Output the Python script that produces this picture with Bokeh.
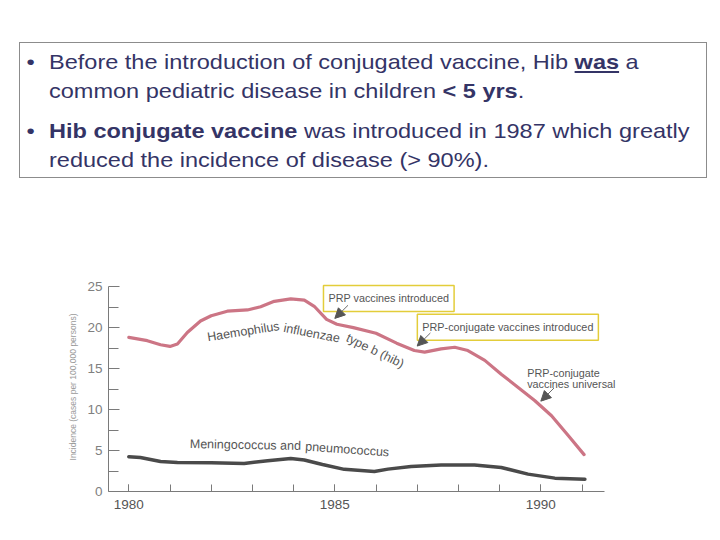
import numpy as np
from bokeh.plotting import figure
from bokeh.models import (Range1d, FixedTicker, Label, Arrow, NormalHead, Div)
from bokeh.layouts import column
from bokeh.embed import file_html
from bokeh.resources import INLINE

# ---------------- data ----------------
hib_years = [1980.0, 1980.45, 1980.77, 1981.0, 1981.18, 1981.42, 1981.74, 1982.0,
             1982.39, 1982.88, 1983.2, 1983.53, 1983.93, 1984.26, 1984.5, 1984.8,
             1985.05, 1985.45, 1986.0, 1986.5, 1986.93, 1987.18, 1987.58, 1987.91,
             1988.23, 1988.64, 1989.04, 1989.45, 1989.85, 1990.26, 1990.67, 1991.05]
hib_vals = [18.8, 18.4, 17.9, 17.7, 18.0, 19.4, 20.8, 21.45,
            22.0, 22.15, 22.55, 23.2, 23.5, 23.35, 22.6, 21.0,
            20.4, 20.0, 19.3, 18.1, 17.2, 17.0, 17.4, 17.6,
            17.2, 16.0, 14.3, 12.7, 11.1, 9.25, 6.8, 4.5]

mp_years = [1980.0, 1980.28, 1980.77, 1981.18, 1982.0, 1982.8, 1983.37, 1983.93,
            1984.26, 1984.7, 1985.23, 1985.96, 1986.29, 1986.85, 1987.58, 1988.39,
            1989.04, 1989.69, 1990.34, 1991.07]
mp_vals = [4.25, 4.15, 3.66, 3.54, 3.5, 3.42, 3.75, 4.03,
           3.85, 3.3, 2.7, 2.45, 2.73, 3.05, 3.22, 3.22,
           2.93, 2.12, 1.63, 1.5]

x_major = [1980, 1985, 1990]
x_minor = list(range(1980, 1992))
y_major = [0, 5, 10, 15, 20, 25]
y_minor = [2.5, 7.5, 12.5, 17.5, 22.5]

event_years = [1985, 1987, 1990]
event_texts = ["PRP vaccines introduced", "PRP-conjugate vaccines introduced",
               "PRP-conjugate\nvaccines universal"]

# ---------------- text box (top) ----------------
TXT = "#343466"
para = ("position:absolute;left:29px;width:640px;transform:scaleX(1.12);"
        "transform-origin:0 0;white-space:nowrap;")
html = f"""
<div style="position:relative;width:720px;height:238px;font-family:'Liberation Sans',Arial,sans-serif;">
 <div style="position:absolute;left:19px;top:42px;width:688px;height:136px;box-sizing:border-box;
             border:1px solid #8c8c8c;color:{TXT};font-size:21px;line-height:29.3px;">
  <div style="{para}top:4px;">
    <span style="position:absolute;left:-20px;">&bull;</span>Before the introduction of conjugated vaccine, Hib <b><u>was</u></b> a<br>common pediatric disease in children <b>&lt; 5 yrs</b>.
  </div>
  <div style="{para}top:73px;">
    <span style="position:absolute;left:-20px;">&bull;</span><b>Hib conjugate vaccine</b> was introduced in 1987 which greatly<br>reduced the incidence of disease (&gt; 90%).
  </div>
 </div>
</div>
"""
div = Div(text=html, width=720, height=238, margin=0)

# ---------------- chart ----------------
p = figure(width=720, height=296, output_backend="svg", toolbar_location=None,
           x_range=Range1d(1979.507, 1991.934), y_range=Range1d(0, 25.5),
           min_border_left=108, min_border_right=100, min_border_top=44,
           min_border_bottom=43, margin=0)
p.outline_line_color = None
p.xgrid.visible = False
p.ygrid.visible = False
p.background_fill_color = "white"
p.border_fill_color = "white"

AX = "#7a7a7a"
p.xaxis.ticker = FixedTicker(ticks=x_major, minor_ticks=x_minor)
p.yaxis.ticker = FixedTicker(ticks=y_major, minor_ticks=y_minor)
p.xaxis.bounds = (1979.507, 1991.546)
p.yaxis.bounds = (0, 25)
for ax in (p.xaxis, p.yaxis):
    ax.axis_line_color = AX
    ax.major_tick_line_color = AX
    ax.minor_tick_line_color = AX
    ax.major_tick_out = 0
    ax.minor_tick_out = 0
    ax.major_label_text_font = "Liberation Sans"
    ax.major_label_text_font_size = "13.5px"
p.xaxis.major_tick_in = 7
p.xaxis.minor_tick_in = 7
p.yaxis.major_tick_in = 11
p.yaxis.minor_tick_in = 10
p.xaxis.major_label_text_color = "#555555"
p.yaxis.major_label_text_color = "#808080"
p.xaxis.major_label_standoff = 8
p.yaxis.major_label_standoff = 6
p.yaxis.axis_label = "Incidence (cases per 100,000 persons)"
p.yaxis.axis_label_text_font = "Liberation Sans"
p.yaxis.axis_label_text_font_style = "normal"
p.yaxis.axis_label_text_font_size = "8.5px"
p.yaxis.axis_label_text_color = "#9a9a9a"
p.yaxis.axis_label_standoff = 6

p.line(hib_years, hib_vals, line_color="#cc7585", line_width=3.2, line_join="round", line_cap="round")
p.line(mp_years, mp_vals, line_color="#4a4a4a", line_width=3.5, line_join="round", line_cap="round")

LBL = "#555555"
FONT = "Liberation Sans"
def lab(x, y, t, angle=0.0, size="12.5px", align="center", baseline="middle", **kw):
    l = Label(x=x, y=y, text=t, angle=angle, angle_units="deg", text_font=FONT,
              text_font_size=size, text_color=LBL, text_align=align,
              text_baseline=baseline, **kw)
    p.add_layout(l)
    return l

# curve labels
lab(1982.78, 19.5, "Haemophilus", angle=9)
lab(1984.44, 19.3, "influenzae", angle=-11)
lab(1985.98, 17.15, "type b (hib)", angle=-26)
lab(1982.83, 5.68, "Meningococcus and", angle=-1)
lab(1985.3, 5.12, "pneumococcus", angle=-4)

# event boxes
box_pos = [(1986.31, 23.56), (1989.2, 20.04)]
for (bx, by), t in zip(box_pos, event_texts[:2]):
    lab(bx, by, t, size="10.8px", border_line_color="#e3cd3a", border_line_width=1.5,
        background_fill_color="white", padding=(5, 7))
lab(1989.67, 15.25, event_texts[2], size="10.8px", align="left", baseline="top",
    text_line_height=0.95)

# arrows pointing to the curve at each event year
for ey in event_years:
    tip_y = float(np.interp(ey, hib_years, hib_vals)) + 0.6
    p.add_layout(Arrow(x_start=ey + 0.32, y_start=tip_y + 1.6, x_end=ey, y_end=tip_y,
                       line_color="#6a6a6a", line_width=1,
                       end=NormalHead(size=10, fill_color="#555555", line_color="#555555")))

layout = column(div, p, margin=0)
open("out.html", "w").write(file_html(layout, INLINE))
